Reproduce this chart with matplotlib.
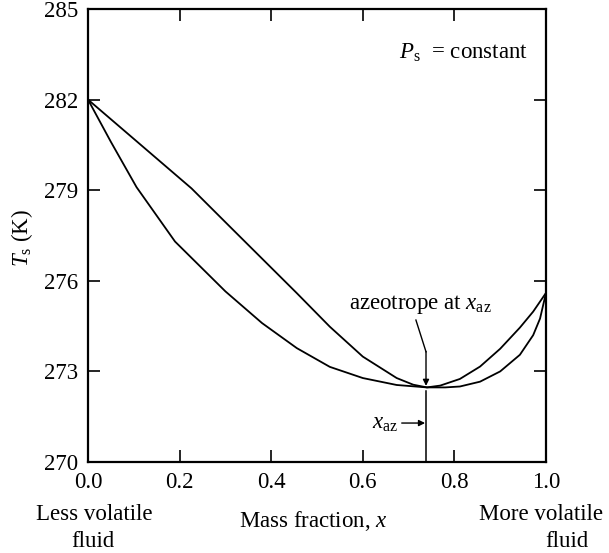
import matplotlib
matplotlib.use("Agg")
import matplotlib.pyplot as plt

plt.rcParams['font.family'] = ['Liberation Serif', 'DejaVu Serif']
plt.rcParams['mathtext.fontset'] = 'custom'
plt.rcParams['mathtext.rm'] = 'Liberation Serif'
plt.rcParams['mathtext.it'] = 'Liberation Serif:italic'
plt.rcParams['mathtext.bf'] = 'Liberation Serif:bold'

# Data
x_bubble = [0.0, 0.05, 0.106, 0.19, 0.30, 0.38, 0.456, 0.528, 0.60, 0.674, 0.74,
            0.78, 0.812, 0.856, 0.90, 0.943, 0.972, 0.987, 1.0]
T_bubble = [282.0, 280.6, 279.1, 277.3, 275.65, 274.6, 273.77, 273.15, 272.78, 272.55, 272.47,
            272.47, 272.50, 272.66, 273.0, 273.55, 274.2, 274.75, 275.6]

x_dew = [0.0, 0.1, 0.226, 0.31, 0.383, 0.456, 0.528, 0.60, 0.674, 0.71, 0.74,
         0.769, 0.812, 0.856, 0.90, 0.943, 0.972, 1.0]
T_dew = [282.0, 280.7, 279.06, 277.79, 276.69, 275.59, 274.48, 273.49, 272.78, 272.56, 272.47,
         272.53, 272.75, 273.16, 273.75, 274.45, 274.98, 275.6]

x_ticks = [0.0, 0.2, 0.4, 0.6, 0.8, 1.0]
x_tick_labels = ['0.0', '0.2', '0.4', '0.6', '0.8', '1.0']
y_ticks = [270, 273, 276, 279, 282, 285]

x_az = 0.738
T_az_top = 272.36

FS = 16.5

fig = plt.figure(figsize=(6.09, 5.53), dpi=100)
ax = fig.add_axes([88/609, (553-462)/553, (546-88)/609, (462-9)/553])

lw = 1.3
ax.plot(x_bubble, T_bubble, color='black', lw=lw, solid_joinstyle='round')
ax.plot(x_dew, T_dew, color='black', lw=lw, solid_joinstyle='round')

ax.set_xlim(0, 1)
ax.set_ylim(270, 285)
ax.set_xticks(x_ticks)
ax.set_xticklabels(x_tick_labels)
ax.set_yticks(y_ticks)

for s in ax.spines.values():
    s.set_linewidth(1.6)
ax.tick_params(direction='in', length=8.5, width=1.2, top=True, right=True,
               labelsize=FS, pad=7)

# vertical azeotrope line
ax.plot([x_az, x_az], [270, T_az_top], color='black', lw=1.1)

# azeotrope annotation
ax.text(0.725, 275.23, r'azeotrope at $x_{\mathrm{az}}$', ha='center', va='center', fontsize=FS)
ax.plot([0.716, x_az], [274.70, 273.65], color='black', lw=1.0)
ax.annotate('', xy=(x_az, 272.52), xytext=(x_az, 273.66),
            arrowprops=dict(arrowstyle='-|>', color='black', lw=1.0,
                            mutation_scale=9, shrinkA=0, shrinkB=0))

# x_az label with arrow
ax.text(0.677, 271.29, r'$x_{\mathrm{az}}$', ha='right', va='center', fontsize=FS)
ax.annotate('', xy=(0.736, 271.29), xytext=(0.685, 271.29),
            arrowprops=dict(arrowstyle='-|>', color='black', lw=1.0,
                            mutation_scale=9, shrinkA=0, shrinkB=0))

# P_s = constant
ax.text(0.961, 283.54, r'$P_{\mathrm{s}}$  = constant', ha='right', va='center', fontsize=FS)

# y label
ax.text(-0.144, 277.42, r'$T_{\mathrm{s}}$ (K)', rotation=90, ha='center', va='center',
        fontsize=FS, clip_on=False)

# bottom labels
ax.text(0.013, 268.26, 'Less volatile', ha='center', va='center', fontsize=FS, clip_on=False)
ax.text(0.011, 267.38, 'fluid', ha='center', va='center', fontsize=FS, clip_on=False)
ax.text(0.492, 268.05, r'Mass fraction, $x$', ha='center', va='center', fontsize=FS, clip_on=False)
ax.text(0.989, 268.26, 'More volatile', ha='center', va='center', fontsize=FS, clip_on=False)
ax.text(1.045, 267.38, 'fluid', ha='center', va='center', fontsize=FS, clip_on=False)

fig.savefig('out.png', dpi=100)
